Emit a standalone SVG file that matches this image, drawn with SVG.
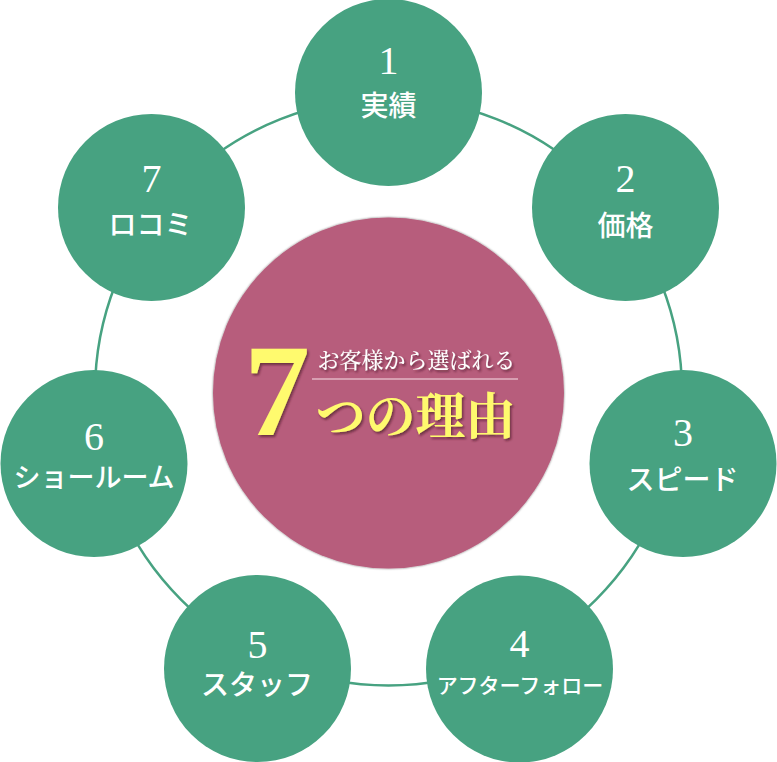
<svg xmlns="http://www.w3.org/2000/svg" width="777" height="762" viewBox="0 0 777 762">
<defs>
<style>
.node{fill:#47A281;}
.num{font-family:"Liberation Serif","Times New Roman",serif;font-size:40px;fill:#fff;text-anchor:middle;}
.lbl{font-family:"Noto Sans CJK JP","Noto Sans",sans-serif;font-size:28px;font-weight:500;fill:#fff;text-anchor:middle;}
.ring{fill:none;stroke:#47A281;stroke-width:2.5;}
.yel{fill:#FFFA6E;}
</style>
<filter id="sh" x="-20%" y="-20%" width="140%" height="140%">
<feDropShadow dx="1.5" dy="2" stdDeviation="1.2" flood-color="#3a1020" flood-opacity="0.6"/>
</filter>
<filter id="csh" x="-5%" y="-5%" width="110%" height="110%">
<feDropShadow dx="0" dy="0" stdDeviation="0.8" flood-color="#000" flood-opacity="0.55"/>
</filter>
</defs>
<rect width="777" height="762" fill="#fff"/>
<g id="connectors">
<circle class="ring" cx="388.5" cy="392" r="293.5"/>
</g>
<g id="center">
<circle cx="388.5" cy="393" r="175.5" fill="#B75D7C" filter="url(#csh)"/>
<text x="277" y="435" class="yel" filter="url(#sh)" font-family="Liberation Serif,'Times New Roman',serif" font-size="132" font-weight="bold" text-anchor="middle">7</text>
<text x="416.5" y="368" fill="#fff" filter="url(#sh)" font-family="'Noto Serif CJK JP','Noto Sans CJK JP',serif" font-size="22" font-weight="500" text-anchor="middle">お客様から選ばれる</text>
<line x1="312" y1="379" x2="518" y2="379" stroke="#E3B6C4" stroke-width="1.5"/>
<text x="415.5" y="434" class="yel" filter="url(#sh)" font-family="'Noto Serif CJK JP','Noto Sans CJK JP',serif" font-size="50" font-weight="bold" text-anchor="middle">つの理由</text>
</g>
<g id="node1">
<circle class="node" cx="388.5" cy="92.5" r="93.5"/>
<text class="num" x="388.5" y="74">1</text>
<text class="lbl" x="388.5" y="116">実績</text>
</g>
<g id="node2">
<circle class="node" cx="625.5" cy="207.5" r="93.5"/>
<text class="num" x="625.5" y="192">2</text>
<text class="lbl" x="625.5" y="236">価格</text>
</g>
<g id="node3">
<circle class="node" cx="683" cy="463.5" r="93.5"/>
<text class="num" x="683" y="446">3</text>
<text class="lbl" x="682.5" y="490">スピード</text>
</g>
<g id="node4">
<circle class="node" cx="519.5" cy="669" r="93.5"/>
<text class="num" x="519.5" y="657">4</text>
<text class="lbl" x="520" y="693" style="font-size:21px">アフターフォロー</text>
</g>
<g id="node5">
<circle class="node" cx="257.5" cy="668.5" r="93.5"/>
<text class="num" x="257.5" y="658">5</text>
<text class="lbl" x="257" y="695">スタッフ</text>
</g>
<g id="node6">
<circle class="node" cx="94" cy="463.5" r="93.5"/>
<text class="num" x="94" y="450">6</text>
<text class="lbl" x="94" y="487" style="font-size:27px">ショールーム</text>
</g>
<g id="node7">
<circle class="node" cx="151.5" cy="207.5" r="93.5"/>
<text class="num" x="151.5" y="192">7</text>
<text class="lbl" x="150.5" y="235">ロコミ</text>
</g>
</svg>
